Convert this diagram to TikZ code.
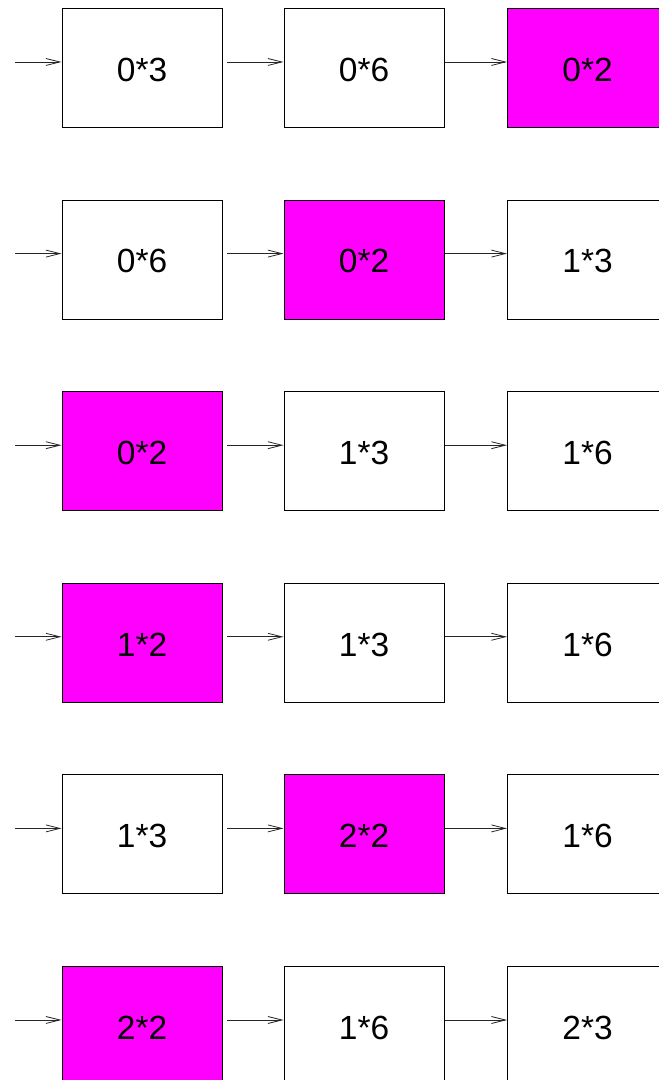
\documentclass[tikz,border=0pt]{standalone}
\usepackage{fontspec}
\setmainfont{Liberation Sans}
\usetikzlibrary{arrows.meta}
\definecolor{mag}{RGB}{255,0,255}
\tikzset{
  cell/.style={draw=black, line width=0.7pt, fill=white, minimum width=160.5pt, minimum height=119pt,
    inner sep=0pt, anchor=north west, text height=47pt, text depth=20pt,
    font=\fontsize{33.5}{40}\selectfont},
  hot/.style={cell, fill=mag},
  arr/.style={draw=black!85, line width=0.6pt, -{Straight Barb[length=14pt,width=7pt,line width=0.8pt]}}
}
\begin{document}
\begin{tikzpicture}[x=1pt,y=1pt]
\useasboundingbox (0,0) rectangle (659,1080);
% row 1
\node[cell] (b11) at (61.5,1072) {0*3};
\node[cell] (b12) at (283.5,1072) {0*6};
\node[hot]  (b13) at (507,1072) {0*2};
% row 2
\node[cell] (b21) at (61.5,880.4) {0*6};
\node[hot]  (b22) at (283.5,880.4) {0*2};
\node[cell] (b23) at (507,880.4) {1*3};
% row 3
\node[hot]  (b31) at (61.5,688.8) {0*2};
\node[cell] (b32) at (283.5,688.8) {1*3};
\node[cell] (b33) at (507,688.8) {1*6};
% row 4
\node[hot]  (b41) at (61.5,497.2) {1*2};
\node[cell] (b42) at (283.5,497.2) {1*3};
\node[cell] (b43) at (507,497.2) {1*6};
% row 5
\node[cell] (b51) at (61.5,305.6) {1*3};
\node[hot]  (b52) at (283.5,305.6) {2*2};
\node[cell] (b53) at (507,305.6) {1*6};
% row 6
\node[hot]  (b61) at (61.5,114) {2*2};
\node[cell] (b62) at (283.5,114) {1*6};
\node[cell] (b63) at (507,114) {2*3};
\foreach \r/\y in {1/1018,2/826.4,3/634.8,4/443.2,5/251.6,6/60}{
  \coordinate (s\r) at (15,\y);
  \draw[arr] (s\r) -- (s\r -| b\r1.west);
  \draw[arr] ([xshift=4.7pt]s\r -| b\r1.east) -- (s\r -| b\r2.west);
  \draw[arr] (s\r -| b\r2.east) -- (s\r -| b\r3.west);
}
\end{tikzpicture}
\end{document}
